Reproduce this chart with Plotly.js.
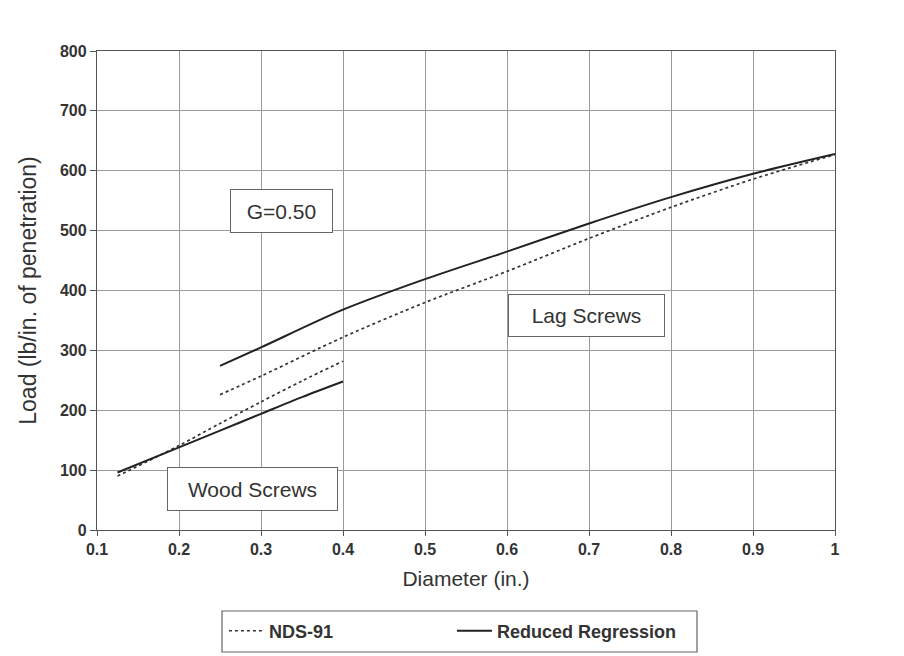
<!DOCTYPE html>
<html>
<head>
<meta charset="utf-8">
<script src="https://cdn.plot.ly/plotly-3.0.1.min.js"></script>
<style>html,body{margin:0;padding:0;background:#fff;}#chart{width:904px;height:656px;}</style>
</head>
<body>
<div id="chart"></div>
<script>
// Diameters (in.)
const lagDiam  = [0.25, 0.3, 0.4, 0.5, 0.6, 0.7, 0.8, 0.9, 1.0];
const woodDiam = [0.125, 0.2, 0.25, 0.3, 0.35, 0.4];
// Load (lb/in. of penetration)
const lagNDS   = [226, 257, 322, 380, 432, 487, 539, 586, 627];
const lagReg   = [274, 305, 368, 419, 465, 512, 556, 595, 628];
const woodNDS  = [90, 141, 178, 214, 249, 282];
const woodReg  = [96, 138, 166, 194, 222, 248];
// Tick labels
const xTicks = [0.1, 0.2, 0.3, 0.4, 0.5, 0.6, 0.7, 0.8, 0.9, 1];
const xTickText = ['0.1','0.2','0.3','0.4','0.5','0.6','0.7','0.8','0.9','1'];
const yTicks = [0, 100, 200, 300, 400, 500, 600, 700, 800];

const FONT = '"Liberation Sans", Arial, Helvetica, sans-serif';
const dotStyle = {color: '#333', width: 1.7, dash: 'dot', shape: 'spline', smoothing: 0.8};
const solidStyle = {color: '#222', width: 2, shape: 'spline', smoothing: 0.8};

const traces = [
  {x: lagDiam, y: lagNDS, type: 'scatter', mode: 'lines', name: 'NDS-91',
   legendgroup: 'nds', line: dotStyle},
  {x: lagDiam, y: lagReg, type: 'scatter', mode: 'lines', name: 'Reduced Regression',
   legendgroup: 'reg', line: solidStyle},
  {x: woodDiam, y: woodNDS, type: 'scatter', mode: 'lines', name: 'NDS-91',
   legendgroup: 'nds', showlegend: false, line: dotStyle},
  {x: woodDiam, y: woodReg, type: 'scatter', mode: 'lines', name: 'Reduced Regression',
   legendgroup: 'reg', showlegend: false, line: solidStyle}
];

const boxAnn = (text, x, y, w, h) => ({
  text: text, x: x, y: y, xref: 'x', yref: 'y', showarrow: false,
  width: w, height: h, borderwidth: 1, borderpad: 0, bordercolor: '#666',
  bgcolor: '#fff', font: {family: FONT, size: 21, color: '#333'}
});

const layout = {
  width: 904, height: 656,
  margin: {l: 97, r: 69, t: 51, b: 126, autoexpand: false},
  paper_bgcolor: '#fff', plot_bgcolor: '#fff',
  font: {family: FONT, color: '#333'},
  showlegend: true,
  xaxis: {
    range: [0.1, 1], tickvals: xTicks, ticktext: xTickText,
    showgrid: true, gridcolor: '#9a9a9a', gridwidth: 1,
    showline: true, linecolor: '#555', linewidth: 1.2, mirror: true,
    ticks: 'outside', ticklen: 5, tickcolor: '#555', zeroline: false,
    tickfont: {family: FONT, size: 16, color: '#333', weight: 'bold'},
    title: {text: 'Diameter (in.)', standoff: 13, font: {family: FONT, size: 21, color: '#333'}}
  },
  yaxis: {
    range: [0, 800], tickvals: yTicks,
    showgrid: true, gridcolor: '#9a9a9a', gridwidth: 1,
    showline: true, linecolor: '#555', linewidth: 1.2, mirror: true,
    ticks: 'outside', ticklen: 6, tickcolor: '#555', zeroline: false,
    tickfont: {family: FONT, size: 16, color: '#333', weight: 'bold'},
    title: {text: 'Load (lb/in. of penetration)', standoff: 16, font: {family: FONT, size: 23, color: '#333'}}
  },
  legend: {
    orientation: 'h', x: 0.172, xanchor: 'left', y: -0.211, yanchor: 'middle',
    bgcolor: 'rgba(0,0,0,0)', borderwidth: 0,
    itemwidth: 35, entrywidth: 178, entrywidthmode: 'pixels',
    font: {family: FONT, size: 18, color: '#333', weight: 'bold'}
  },
  shapes: [{
    type: 'rect', xref: 'paper', yref: 'paper',
    x0: 0.1694, x1: 0.813, y0: -0.2547, y1: -0.1691,
    line: {color: '#666', width: 1.2}, fillcolor: 'rgba(0,0,0,0)'
  }],
  annotations: [
    boxAnn('G=0.50', 0.325, 533, 101, 42),
    boxAnn('Lag Screws', 0.697, 358, 155, 41),
    boxAnn('Wood Screws', 0.2896, 68.5, 169, 42)
  ]
};

Plotly.newPlot('chart', traces, layout, {displayModeBar: false, staticPlot: true});
</script>
</body>
</html>
